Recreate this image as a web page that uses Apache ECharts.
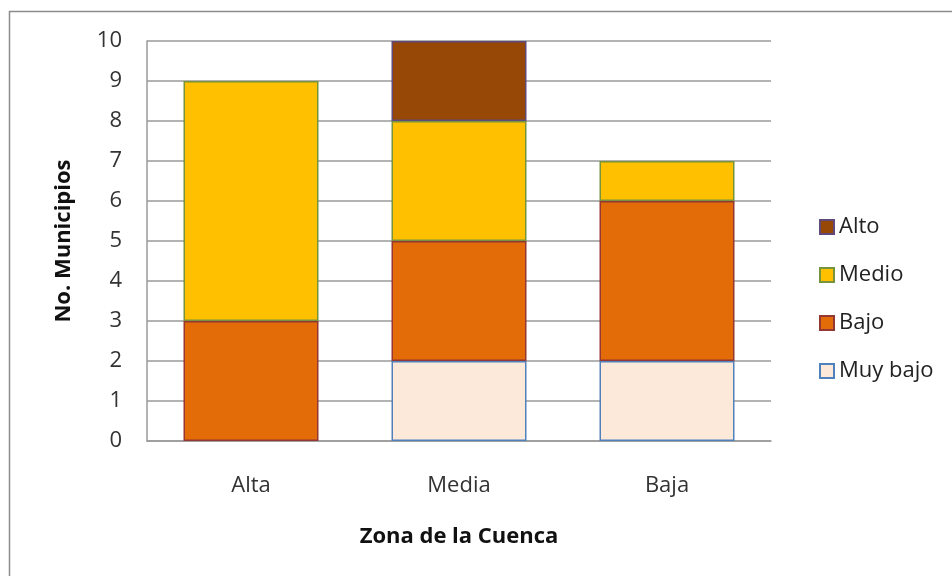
<!DOCTYPE html>
<html>
<head>
<meta charset="utf-8">
<script src="https://cdn.jsdelivr.net/npm/echarts@6/dist/echarts.min.js"></script>
<style>
  html, body { margin: 0; padding: 0; background: #fff; }
  #chart { width: 952px; height: 576px; }
</style>
</head>
<body>
<div id="chart"></div>
<script>
// Zones of the basin and municipality counts per level
const categories = ['Alta', 'Media', 'Baja'];
const muyBajo = [0, 2, 2];
const bajo = [3, 3, 4];
const medio = [6, 3, 1];
const alto = [0, 2, 0];
const legendOrder = ['Alto', 'Medio', 'Bajo', 'Muy bajo'];

const FONT = '"Open Sans", "Noto Sans", sans-serif';

// Empty segments are left out so they draw no outline on the stack
function barSeries(name, data, fill, border) {
  return {
    name: name,
    type: 'bar',
    stack: 'total',
    data: data.map(v => (v === 0 ? '-' : v)),
    barWidth: 135,
    itemStyle: { color: fill, borderColor: border, borderWidth: 1.5 }
  };
}

const chart = echarts.init(document.getElementById('chart'));
chart.setOption({
  animation: false,
  backgroundColor: '#ffffff',
  graphic: [{
    type: 'rect',
    shape: { x: 9.5, y: 11.5, width: 960, height: 600 },
    style: { fill: 'none', stroke: '#8c8c8c', lineWidth: 1.5 },
    silent: true
  }],
  grid: { left: 147, top: 41, width: 624, height: 400, containLabel: false },
  legend: {
    data: legendOrder,
    orient: 'vertical',
    icon: 'rect',
    left: 814,
    top: 210,
    itemWidth: 14,
    itemHeight: 14,
    itemGap: 24,
    textStyle: { fontFamily: FONT, fontSize: 22, lineHeight: 24, color: '#222' },
    selectedMode: false
  },
  xAxis: {
    type: 'category',
    data: categories,
    name: 'Zona de la Cuenca',
    nameLocation: 'middle',
    nameGap: 85,
    nameTextStyle: { fontFamily: FONT, fontSize: 22, fontWeight: 'bold', color: '#111' },
    axisLine: { lineStyle: { color: '#9a9a9a', width: 1.5 } },
    axisTick: { show: false },
    axisLabel: { fontFamily: FONT, fontSize: 22, color: '#333', margin: 34 }
  },
  yAxis: {
    type: 'value',
    min: 0,
    max: 10,
    interval: 1,
    name: 'No. Municipios',
    nameLocation: 'middle',
    nameGap: 72,
    nameRotate: 90,
    nameTextStyle: { fontFamily: FONT, fontSize: 22, fontWeight: 'bold', color: '#111' },
    axisLine: { show: true, lineStyle: { color: '#9a9a9a', width: 1.5 } },
    axisTick: { show: false },
    axisLabel: { fontFamily: FONT, fontSize: 22, color: '#333', margin: 25 },
    splitLine: { lineStyle: { color: '#9a9a9a', width: 1.5 } }
  },
  series: [
    barSeries('Muy bajo', muyBajo, '#fde9d9', '#4f81bd'),
    barSeries('Bajo', bajo, '#e36c09', '#953735'),
    barSeries('Medio', medio, '#ffc000', '#77933c'),
    barSeries('Alto', alto, '#974706', '#604a7b')
  ]
});
</script>
</body>
</html>
